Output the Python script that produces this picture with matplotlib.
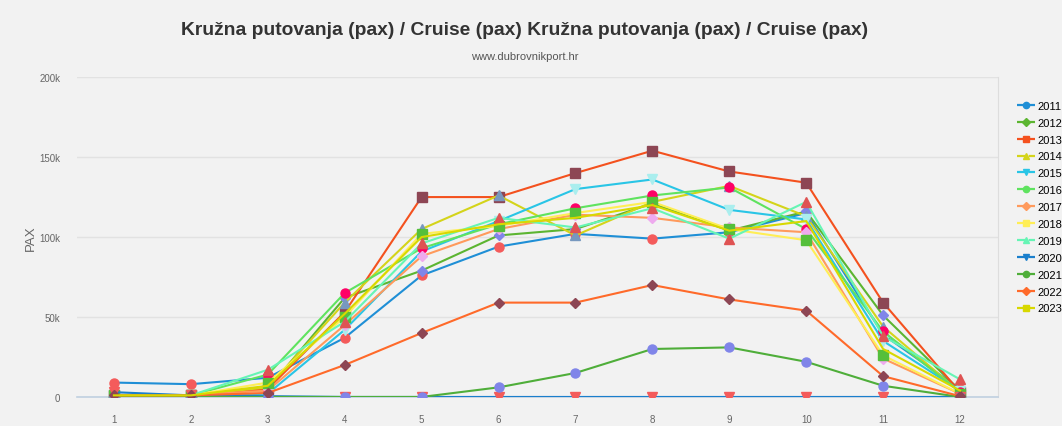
import matplotlib
matplotlib.use("Agg")
import matplotlib.pyplot as plt
from matplotlib.ticker import FuncFormatter

months = [1, 2, 3, 4, 5, 6, 7, 8, 9, 10, 11, 12]
years = ["2011", "2012", "2013", "2014", "2015", "2016", "2017",
         "2018", "2019", "2020", "2021", "2022", "2023"]

# passengers per month (thousands)
pax_2011 = [9, 8, 12, 37, 76, 94, 102, 99, 103, 115, 39, 5]
pax_2012 = [1, 1, 5, 62, 79, 101, 105, 121, 104, 116, 51, 4]
pax_2013 = [1, 1, 5, 53, 125, 125, 140, 154, 141, 134, 59, 3]
pax_2014 = [1, 1, 6, 59, 105, 126, 101, 122, 132, 113, 44, 3]
pax_2015 = [1, 1, 2, 42, 91, 110, 130, 136, 117, 111, 35, 4]
pax_2016 = [1, 1, 14, 65, 93, 108, 118, 126, 131, 105, 41, 3]
pax_2017 = [1, 1, 4, 45, 88, 105, 114, 112, 106, 103, 24, 2]
pax_2018 = [1, 1, 9, 50, 102, 107, 115, 122, 105, 98, 26, 2]
pax_2019 = [1, 1, 17, 47, 96, 112, 106, 118, 99, 122, 38, 11]
pax_2020 = [3, 1, 0.5, 0, 0, 0, 0, 0, 0, 0, 0, 0]
pax_2021 = [0, 0, 0, 0, 0, 6, 15, 30, 31, 22, 7, 0]
pax_2022 = [1, 1, 2.5, 20, 40, 59, 59, 70, 61, 54, 13, 0.5]
pax_2023 = [1, 1, 7, 52, 100, 108, 112, 120, 104, 110, 30, 4]

series = [pax_2011, pax_2012, pax_2013, pax_2014, pax_2015, pax_2016, pax_2017,
          pax_2018, pax_2019, pax_2020, pax_2021, pax_2022, pax_2023]

line_colors = ["#1f8fd6", "#5cb531", "#f4511e", "#d4d41a", "#29c5e6", "#5fe35f",
               "#ff9a5c", "#ffee55", "#66f5b5", "#1a7fcc", "#4fae3a", "#ff6a2a",
               "#d8d800"]
marker_colors = ["#f45b5b", "#8085e9", "#8d4654", "#7798BF", "#aaeeee",
                 "#ff0066", "#eeaaee", "#55BF3B", "#DF5353",
                 "#f45b5b", "#8085e9", "#8d4654", "#d8d800"]
marker_shapes = ["o", "D", "s", "^", "v"]

font = ["Liberation Sans", "DejaVu Sans"]
bg = "#f2f2f2"
fig = plt.figure(figsize=(10.62, 4.27), dpi=100, facecolor=bg)
ax = fig.add_axes([0.0725, 0.068, 0.867, 0.749], facecolor=bg)

for i, (yr, vals) in enumerate(zip(years, series)):
    # last series: markers hidden under the others in the original
    shape = marker_shapes[i % 5] if i < 12 else "None"
    ax.plot(months, [v * 1000 for v in vals], color=line_colors[i], linewidth=1.5,
            marker=shape, markersize=6.5 if i % 5 != 1 else 5,
            markerfacecolor=marker_colors[i], markeredgecolor=marker_colors[i],
            zorder=3)

ax.set_xlim(0.52, 12.49)
ax.set_ylim(0, 200000)
ax.set_xticks(months)
ax.set_yticks([0, 50000, 100000, 150000, 200000])
ax.yaxis.set_major_formatter(FuncFormatter(lambda v, p: "0" if v == 0 else f"{int(v / 1000)}k"))
ax.tick_params(axis="both", length=0, labelsize=7, colors="#666666")
ax.tick_params(axis="x", pad=12)
ax.tick_params(axis="y", pad=12)
for lbl in ax.get_xticklabels() + ax.get_yticklabels():
    lbl.set_family(font)
ax.grid(axis="y", color="#e2e2e2", linewidth=1)
ax.set_axisbelow(True)
for side in ["top", "left"]:
    ax.spines[side].set_visible(False)
ax.spines["right"].set_color("#dddddd")
ax.spines["bottom"].set_color("#c0d0e0")
ax.spines["bottom"].set_linewidth(1.2)

ax.set_ylabel("PAX", fontsize=9.5, color="#666666", labelpad=2, family=font)

fig.text(0.494, 0.928, "Kružna putovanja (pax) / Cruise (pax) Kružna putovanja (pax) / Cruise (pax)",
         ha="center", va="center", fontsize=13.9, fontweight="bold", color="#333333",
         family=font)
fig.text(0.494, 0.866, "www.dubrovnikport.hr", ha="center", va="center",
         fontsize=8, color="#555555", family=font)

handles = []
for i, yr in enumerate(years):
    h, = ax.plot([], [], color=line_colors[i], linestyle="--", linewidth=1.6,
                 marker=marker_shapes[i % 5], markersize=4.5,
                 markerfacecolor=line_colors[i], markeredgecolor=line_colors[i],
                 label=yr)
    handles.append(h)
fig.legend(handles=handles, loc="upper left", bbox_to_anchor=(0.948, 0.785),
           frameon=False, prop={"family": font, "size": 8}, handlelength=1.6,
           handletextpad=0.3, labelspacing=0.62)

fig.savefig("out.png", dpi=100, facecolor=bg)
